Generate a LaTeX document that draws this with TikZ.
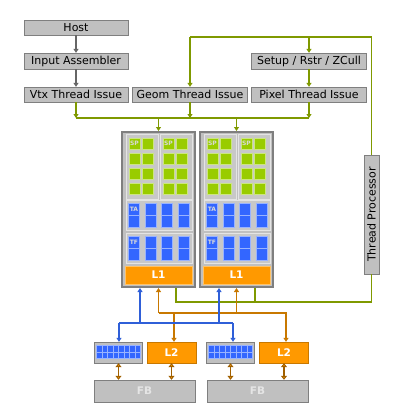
\documentclass[tikz,border=0pt]{standalone}
\usepackage{fontspec}
\setmainfont{DejaVu Sans}
\usetikzlibrary{arrows.meta,positioning}

\definecolor{boxgray}{HTML}{C0C0C0}
\definecolor{boxedge}{HTML}{7F7F7F}
\definecolor{panelgray}{HTML}{C8C8C8}
\definecolor{paneledge}{HTML}{E4E4E4}
\definecolor{wiregreen}{HTML}{7F9900}
\definecolor{wiregray}{HTML}{666666}
\definecolor{wireblue}{HTML}{2F5FD8}
\definecolor{wireorange}{HTML}{C87800}
\definecolor{spgreen}{HTML}{99CC00}
\definecolor{spedge}{HTML}{CCE680}
\definecolor{texblue}{HTML}{3366FF}
\definecolor{texedge}{HTML}{99B3FF}
\definecolor{cacheorange}{HTML}{FF9900}

\begin{document}
\begin{tikzpicture}
	[x=1pt,y=-1pt,>={Triangle[length=4pt,width=5pt]},
	 box/.style={draw=boxedge,fill=boxgray,inner sep=0pt,minimum height=15,font=\fontsize{11}{12}\selectfont},
	 gwire/.style={draw=wiregreen,line width=1.5pt},
	 graywire/.style={draw=wiregray,line width=1.5pt},
	 bwire/.style={draw=wireblue,line width=1.5pt},
	 owire/.style={draw=wireorange,line width=1.5pt},
	 oarrow/.style={draw=wireorange!80!black,line width=1.2pt,{Triangle[length=4pt,width=6pt,fill=cacheorange]}-{Triangle[length=4pt,width=6pt,fill=cacheorange]}},
	 smblock/.style={draw=boxedge,fill=boxgray,line width=2pt,minimum width=73,minimum height=155,inner sep=0pt},
	 panel/.style={draw=paneledge,fill=panelgray,line width=1pt,inner sep=0pt},
	 spcell/.style={draw=spedge,fill=spgreen,line width=0.8pt,minimum size=11,inner sep=0pt},
	 texcell/.style={draw=texedge,fill=texblue,line width=0.8pt,minimum width=11,minimum height=12,inner sep=0pt},
	 tag/.style={text=white!85!black,font=\fontsize{6}{6}\selectfont\bfseries,inner sep=0pt},
	 l1box/.style={draw=cacheorange!60!white,fill=cacheorange,line width=0.8pt,minimum width=67,minimum height=18,inner sep=0pt,text=white,font=\fontsize{10.5}{11}\selectfont\bfseries},
	 l2box/.style={draw=wireorange,fill=cacheorange,minimum width=49,minimum height=21,inner sep=0pt,text=white,font=\fontsize{10.5}{11}\selectfont\bfseries},
	 membox/.style={draw=boxedge,fill=boxgray,minimum width=48,minimum height=21,inner sep=0pt},
	 memcell/.style={draw=texedge,fill=texblue,line width=0.6pt},
	 fbbox/.style={draw=boxedge,fill=boxgray,minimum width=101,minimum height=22,inner sep=0pt,text=white!90!black,font=\fontsize{10.5}{11}\selectfont\bfseries}]

	\useasboundingbox (0,0) rectangle (420,420);

	% front end
	\node[box,minimum width=104] (host) at (76,27.5) {Host};
	\node[box,minimum width=104,minimum height=16] (asm) at (76,61) {Input Assembler};
	\node[box,minimum width=104] (vtx) at (76,94.5) {Vtx Thread Issue};
	\node[box,minimum width=115] (geom) at (190,94.5) {Geom Thread Issue};
	\node[box,minimum width=115,minimum height=16] (setup) at (309,61) {Setup / Rstr / ZCull};
	\node[box,minimum width=115] (pixel) at (309,94.5) {Pixel Thread Issue};
	\node[box,rotate=90,minimum width=119] (tp) at (371.5,214.5) {Thread Processor};

	\draw[graywire,->] (host) -- (asm);
	\draw[graywire,->] (asm) -- (vtx);

	\coordinate (gtl) at (190,37);
	\coordinate (gts) at (309,37);
	\coordinate (gtr) at (371.5,37);
	\draw[gwire] (tp.east) -- (gtr) -- (gtl);
	\draw[gwire,->] (gtl) -- (geom);
	\draw[gwire,->] (gts) -- (setup);
	\draw[gwire,->] (setup) -- (pixel);

	\coordinate (bl) at (76,118);
	\coordinate (bg) at (190,118);
	\coordinate (br) at (309,118);
	\coordinate (bs1) at (158.5,118);
	\coordinate (bs2) at (236.5,118);
	\draw[gwire] (bl) -- (br);
	\draw[gwire,->] (vtx) -- (bl);
	\draw[gwire,->] (geom) -- (bg);
	\draw[gwire,->] (pixel) -- (br);

	% shader blocks
	\foreach \ox/\n in {122/1,200/2}{
		\node[smblock] (sm\n) at (\ox+36.5,209.5) {};
		\foreach \px in {4,38}{
			\node[panel,minimum width=32,minimum height=65] at (\ox+\px+16,166.5) {};
			\foreach \c in {0,1}
				\foreach \r in {0,...,3}
					\node[spcell] at (\ox+\px+8.5+\c*13.5,143.5+\r*15) {};
			\node[tag] at (\ox+\px+8.5,143.5) {SP};
		}
		\foreach \py/\lbl in {215/TA,248/TF}{
			\node[panel,minimum width=66,minimum height=30] at (\ox+37,\py) {};
			\foreach \c in {0,...,3}{
				\node[texcell] at (\ox+12+\c*16.5,\py-6) {};
				\node[texcell] at (\ox+12+\c*16.5,\py+6) {};
			}
			\node[tag] at (\ox+12,\py-6) {\lbl};
		}
		\node[l1box] (l1\n) at (\ox+36.5,275) {L1};
	}

	\draw[gwire,->] (bs1) -- (sm1);
	\draw[gwire,->] (bs2) -- (sm2);

	% memory side
	\node[membox] (mc1) at (118.5,352.5) {};
	\node[l2box] (l2a) at (171.5,352.5) {L2};
	\node[membox] (mc2) at (230.5,352.5) {};
	\node[l2box] (l2b) at (284,352.5) {L2};
	\node[fbbox] (fb1) at (144.5,391) {FB};
	\node[fbbox] (fb2) at (257.5,391) {FB};

	\foreach \mx in {96.5,208.5}
		\foreach \c in {0,...,7}
			\foreach \r in {0,1}
				\filldraw[memcell] (\mx+\c*5.5,345.5+\r*6.5) rectangle +(5.5,6.5);

	\coordinate (gbr) at (371.5,302);
	\coordinate (gb1) at (176,302);
	\coordinate (gb2) at (255,302);
	\draw[gwire] (tp.west) -- (gbr) -- (gb1) -- (gb1 |- sm1.south);
	\draw[gwire] (gb2) -- (gb2 |- sm2.south);

	\coordinate (o1) at (158.5,313);
	\coordinate (o2) at (286,313);
	\coordinate (o3) at (174,313);
	\coordinate (o4) at (236.5,313);
	\draw[owire,->] (o1) -- (o2) -- (o2 |- l2b.north);
	\draw[owire,->] (o1) -- (o1 |- sm1.south);
	\draw[owire,->] (o3) -- (o3 |- l2a.north);
	\draw[owire,->] (o4) -- (o4 |- sm2.south);

	\coordinate (b1) at (119,323);
	\coordinate (b2) at (233,323);
	\coordinate (bu1) at (140,323);
	\coordinate (bu2) at (219,323);
	\draw[bwire] (b1) -- (b2);
	\draw[bwire,->] (b1) -- (b1 |- mc1.north);
	\draw[bwire,->] (b2) -- (b2 |- mc2.north);
	\draw[bwire,->] (bu1) -- (bu1 |- sm1.south);
	\draw[bwire,->] (bu2) -- (bu2 |- sm2.south);

	\draw[oarrow] (mc1.south) -- (mc1.south |- fb1.north);
	\draw[oarrow] (l2a.south) -- (l2a.south |- fb1.north);
	\draw[oarrow] (mc2.south) -- (mc2.south |- fb2.north);
	\draw[oarrow] (l2b.south) -- (l2b.south |- fb2.north);
\end{tikzpicture}
\end{document}
